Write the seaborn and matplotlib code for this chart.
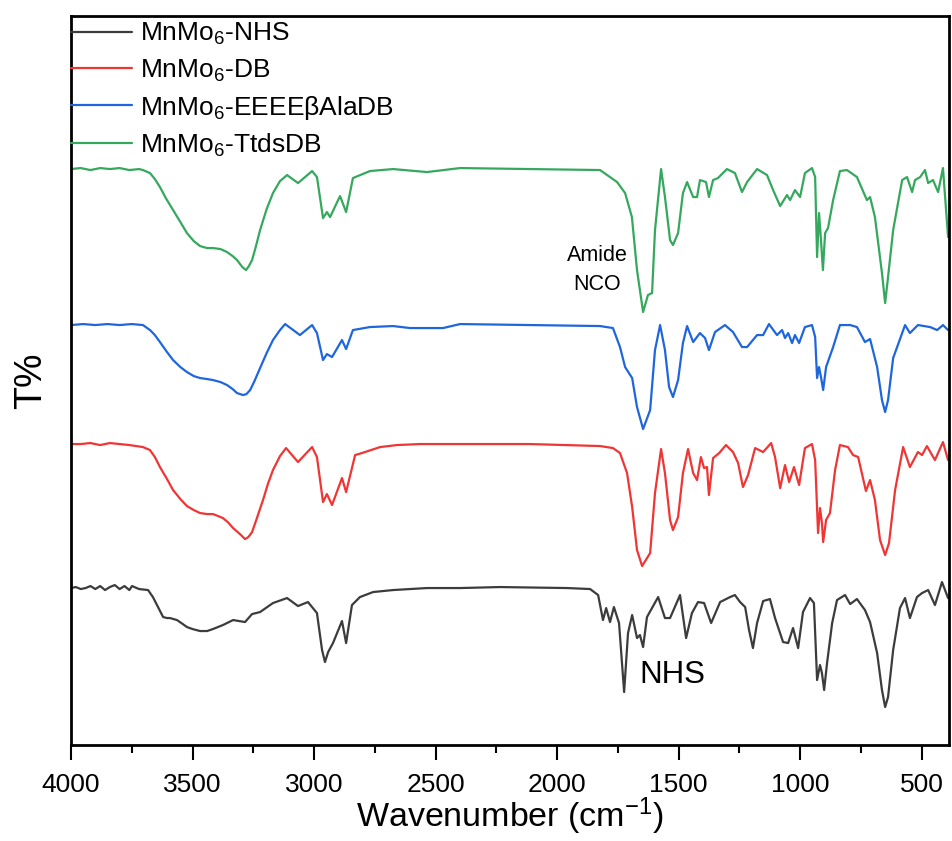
import numpy as np
import pandas as pd
import matplotlib
matplotlib.use("Agg")
import matplotlib.pyplot as plt
from matplotlib.ticker import MultipleLocator
import seaborn as sns

# FTIR spectra (wavenumber in cm-1, transmittance relative to each baseline, arb. units)
wn_nhs = [4000, 3980, 3960, 3940, 3920, 3900, 3880, 3860, 3840, 3820, 3800, 3780, 3760, 3749, 3720,
          3683, 3663, 3642, 3621, 3605, 3593, 3564, 3540, 3523, 3500, 3469, 3440, 3416, 3375, 3333,
          3284, 3255, 3222, 3169, 3111, 3066, 3025, 2988, 2967, 2955, 2942, 2922, 2885, 2868, 2844,
          2811, 2757, 2675, 2535, 2399, 2235, 1959, 1864, 1831, 1811, 1798, 1782, 1766, 1745, 1724,
          1708, 1691, 1671, 1659, 1646, 1630, 1584, 1556, 1535, 1494, 1469, 1445, 1420, 1395, 1366,
          1329, 1288, 1268, 1247, 1226, 1210, 1194, 1177, 1152, 1124, 1103, 1070, 1049, 1029, 1008,
          988, 959, 943, 930, 918, 910, 901, 889, 868, 848, 815, 794, 766, 733, 712,
          683, 663, 650, 638, 617, 589, 568, 548, 519, 498, 473, 445, 416, 391]
t_nhs = [0, 1, -1, 0, 2, -1, 2, -2, 1, 3, -1, 2, -2, 2, -1,
         -2, -9, -19, -29, -30, -30, -32, -36, -39, -41, -43, -43, -41, -37, -32,
         -34, -26, -24, -15, -10, -18, -14, -25, -62, -74, -64, -55, -33, -55, -17,
         -9, -4, -2, 0, 0, 1, 0, -1, -7, -32, -20, -34, -19, -35, -104,
         -45, -27, -50, -47, -59, -29, -9, -30, -30, -7, -50, -25, -14, -15, -35,
         -14, -9, -7, -14, -19, -42, -60, -35, -13, -11, -30, -54, -55, -40, -60,
         -24, -10, -15, -92, -77, -85, -102, -75, -35, -12, -7, -16, -11, -22, -34,
         -65, -102, -119, -109, -62, -20, -10, -30, -9, -5, -2, -17, 6, -10]

wn_db = [4000, 3960, 3920, 3880, 3840, 3800, 3760, 3704, 3675, 3655, 3634, 3605, 3580, 3550, 3523,
         3495, 3469, 3440, 3416, 3395, 3375, 3355, 3333, 3305, 3284, 3270, 3255, 3235, 3210, 3190,
         3169, 3140, 3115, 3066, 3008, 2988, 2963, 2947, 2926, 2885, 2868, 2831, 2803, 2728, 2659,
         2564, 2399, 2111, 1823, 1770, 1741, 1712, 1691, 1671, 1650, 1617, 1597, 1572, 1556, 1535,
         1523, 1502, 1482, 1461, 1440, 1424, 1408, 1395, 1383, 1375, 1358, 1333, 1305, 1276, 1255,
         1235, 1214, 1185, 1152, 1119, 1103, 1082, 1062, 1045, 1025, 1004, 980, 951, 938, 926,
         918, 910, 905, 893, 877, 856, 836, 803, 782, 761, 729, 712, 692, 671, 650,
         634, 609, 576, 548, 515, 498, 478, 445, 412, 391]
t_db = [0, 0, 1, -1, 1, 0, -1, -3, -6, -13, -23, -35, -46, -55, -62,
        -66, -69, -70, -70, -72, -74, -78, -84, -90, -95, -93, -88, -74, -56, -40,
        -26, -12, -4, -18, -3, -13, -58, -50, -61, -34, -48, -11, -9, -3, -1,
        0, 0, 0, -2, -4, -9, -29, -63, -106, -122, -109, -49, -5, -29, -76,
        -86, -73, -29, -5, -29, -36, -13, -24, -23, -51, -14, -9, -1, -8, -19,
        -43, -31, -4, -8, 1, -13, -44, -21, -38, -23, -41, -4, 0, -16, -89,
        -64, -79, -98, -76, -69, -26, -1, -3, -11, -13, -47, -36, -56, -96, -111,
        -99, -46, -3, -23, -8, -11, -2, -16, 2, -16]

wn_eee = [4000, 3950, 3900, 3850, 3800, 3750, 3704, 3675, 3655, 3634, 3605, 3580, 3550, 3523, 3495,
          3469, 3440, 3416, 3385, 3358, 3335, 3317, 3292, 3278, 3263, 3245, 3222, 3195, 3169, 3140,
          3119, 3058, 3008, 2988, 2963, 2947, 2926, 2885, 2868, 2840, 2770, 2675, 2605, 2469, 2399,
          2111, 1823, 1770, 1741, 1720, 1691, 1671, 1646, 1617, 1597, 1576, 1556, 1539, 1523, 1502,
          1482, 1465, 1440, 1412, 1391, 1375, 1350, 1309, 1276, 1239, 1218, 1177, 1152, 1128, 1095,
          1074, 1062, 1049, 1033, 1021, 1004, 980, 951, 938, 930, 922, 914, 905, 893, 864,
          836, 794, 766, 733, 712, 683, 663, 650, 638, 617, 568, 548, 515, 465, 436,
          412, 391]
t_eee = [0, 1, 0, 1, 0, 1, 0, -5, -10, -17, -27, -35, -42, -47, -51,
         -53, -54, -55, -57, -60, -64, -68, -70, -69, -65, -56, -43, -28, -15, -5,
         1, -10, 0, -8, -35, -29, -32, -15, -24, -5, -2, -1, -3, -3, 1,
         0, -1, -3, -22, -42, -53, -82, -104, -85, -25, 0, -25, -62, -72, -55,
         -18, -1, -17, -8, -13, -25, -7, 0, -7, -22, -22, -10, -10, 1, -10,
         -5, -13, -8, -18, -10, -18, -2, 0, -12, -53, -42, -52, -65, -42, -22,
         0, 0, -2, -17, -14, -42, -75, -87, -75, -33, 0, -8, 0, -2, -5,
         0, -5]

wn_ttds = [4000, 3960, 3920, 3880, 3840, 3800, 3760, 3720, 3704, 3675, 3655, 3634, 3610, 3580, 3550,
           3523, 3495, 3469, 3440, 3416, 3385, 3358, 3335, 3317, 3295, 3280, 3268, 3255, 3240, 3222,
           3195, 3169, 3140, 3111, 3066, 3008, 2988, 2963, 2947, 2934, 2893, 2868, 2840, 2770, 2675,
           2535, 2399, 2111, 1823, 1753, 1720, 1692, 1671, 1646, 1626, 1609, 1597, 1572, 1556, 1535,
           1523, 1502, 1482, 1465, 1440, 1424, 1412, 1387, 1375, 1358, 1338, 1301, 1268, 1239, 1218,
           1177, 1136, 1111, 1082, 1054, 1041, 1021, 1000, 980, 951, 938, 930, 922, 914, 906,
           897, 885, 864, 836, 807, 766, 725, 712, 692, 663, 650, 638, 617, 580, 560,
           539, 527, 506, 486, 473, 453, 432, 412, 391]
t_ttds = [0, 1, -1, 1, 0, 1, -1, 0, -1, -4, -10, -18, -29, -41, -53,
          -64, -72, -77, -79, -79, -80, -83, -87, -91, -98, -101, -97, -91, -78, -61,
          -40, -24, -12, -6, -14, -2, -8, -49, -43, -48, -27, -43, -9, -2, 0,
          -3, 1, 0, -1, -13, -24, -48, -101, -143, -126, -124, -61, 0, -28, -71,
          -76, -64, -24, -13, -28, -28, -11, -13, -28, -11, -9, 0, -4, -23, -13,
          0, -6, -21, -37, -26, -31, -21, -28, -4, 1, -8, -88, -44, -71, -101,
          -64, -59, -31, -2, -1, -8, -31, -28, -48, -104, -134, -108, -61, -11, -8,
          -23, -11, -8, -1, -14, -11, -23, 1, -68]

labels = ["MnMo$_6$-NHS", "MnMo$_6$-DB", "MnMo$_6$-EEEEβAlaDB", "MnMo$_6$-TtdsDB"]
offsets = [157, 301, 420, 576]
colors = ["#3c3c3c", "#f03535", "#1f66dd", "#35a85e"]

series = [(wn_nhs, t_nhs), (wn_db, t_db), (wn_eee, t_eee), (wn_ttds, t_ttds)]
frames = []
for (wn, t), lab, off in zip(series, labels, offsets):
    frames.append(pd.DataFrame({"wn": wn, "T": np.asarray(t, float) + off, "sample": lab}))
df = pd.concat(frames, ignore_index=True)

sns.set_theme(style="white")
plt.rcParams["font.family"] = ["Liberation Sans", "DejaVu Sans"]
plt.rcParams["mathtext.default"] = "regular"
plt.rcParams["text.color"] = "black"
plt.rcParams["axes.labelcolor"] = "black"
plt.rcParams["xtick.color"] = "black"

fig = plt.figure(figsize=(9.52, 8.41), dpi=100)
ax = fig.add_axes([0.0746, 0.1141, 0.9223, 0.8668])

sns.lineplot(data=df, x="wn", y="T", hue="sample", hue_order=labels,
             palette=dict(zip(labels, colors)), estimator=None, sort=False,
             linewidth=1.6, ax=ax)
for ln in ax.get_lines():
    ln.set_solid_joinstyle("round")

ax.set_xlim(4000, 387)
ax.set_ylim(0, 729)
ax.xaxis.set_major_locator(MultipleLocator(500))
ax.xaxis.set_minor_locator(MultipleLocator(250))
ax.set_yticks([])
ax.tick_params(axis="x", which="major", direction="out", length=11, width=1.5,
               labelsize=19, bottom=True, pad=9, colors="black")
ax.tick_params(axis="x", which="minor", direction="out", length=6, width=1.5, bottom=True,
               colors="black")
for s in ax.spines.values():
    s.set_color("black")
    s.set_linewidth(2)

ax.set_xlabel("Wavenumber (cm$^{-1}$)", fontsize=24.5, labelpad=-1, color="black")
ax.set_ylabel("T%", fontsize=27, labelpad=16, color="black")

ax.text(1835, 475, "Amide\nNCO", fontsize=15.5, ha="center", va="center", linespacing=1.5,
        color="black")
ax.text(1660, 70, "NHS", fontsize=22.5, ha="left", va="center", color="black")

leg = ax.legend(loc="upper left", frameon=False, fontsize=19, handlelength=2.3,
                handletextpad=0.3, borderaxespad=0.0, borderpad=0.0,
                labelspacing=0.38, bbox_to_anchor=(0.0, 0.993))
for h in leg.get_lines():
    h.set_linewidth(1.6)
for txt in leg.get_texts():
    txt.set_color("black")

fig.savefig("out.png", dpi=100)
